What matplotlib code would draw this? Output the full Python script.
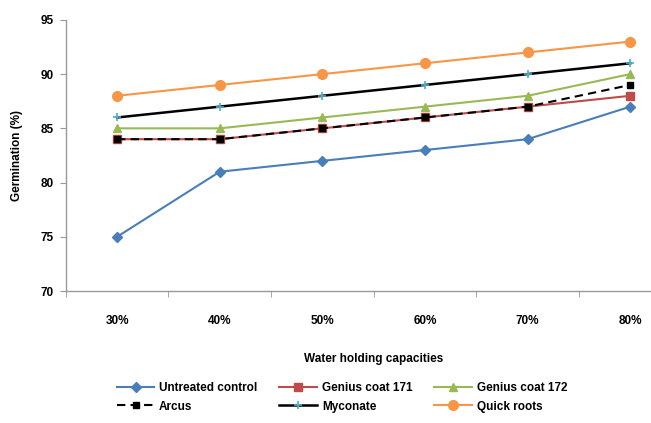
import matplotlib
matplotlib.use("Agg")
import matplotlib.pyplot as plt
import numpy as np

plt.rcParams['font.family'] = ['Liberation Sans', 'DejaVu Sans']
plt.rcParams['font.weight'] = 'bold'

categories = ["30%", "40%", "50%", "60%", "70%", "80%"]
untreated = [75, 81, 82, 83, 84, 87]
genius171 = [84, 84, 85, 86, 87, 88]
genius172 = [85, 85, 86, 87, 88, 90]
arcus = [84, 84, 85, 86, 87, 89]
myconate = [86, 87, 88, 89, 90, 91]
quick_roots = [88, 89, 90, 91, 92, 93]

fig = plt.figure(figsize=(6.51, 4.23), dpi=100)
ax = fig.add_axes([0.101, 0.312, 0.946, 0.641])

x = np.arange(len(categories))
ax.plot(x, untreated, color='#4a7ebb', marker='D', ms=5, lw=1.5, label='Untreated control')
ax.plot(x, genius171, color='#be4b48', marker='s', ms=6, lw=1.5, label='Genius coat 171')
ax.plot(x, genius172, color='#98b954', marker='^', ms=6, lw=1.5, label='Genius coat 172')
ax.plot(x, arcus, color='black', marker='s', ms=5, lw=1.5, ls=(0, (4, 2.5)), label='Arcus')
ax.plot(x, myconate, color='black', marker='+', ms=6, mec='#4bacc6', mew=1.2, lw=1.8, label='Myconate')
ax.plot(x, quick_roots, color='#f79646', marker='o', ms=7, lw=1.5, label='Quick roots')

ax.set_xlim(-0.5, len(categories) - 0.5)
ax.set_ylim(70, 95)
ax.set_yticks(np.arange(70, 96, 5))
ax.set_xticks(x)
ax.set_xticklabels(categories, fontsize=8.5, fontweight='bold')
ax.set_xticks(np.arange(-0.5, len(categories), 1), minor=True)
ax.tick_params(axis='x', which='major', length=0, pad=17)
ax.tick_params(axis='x', which='minor', length=4, color='#999999')
ax.tick_params(axis='y', length=4, color='#999999', labelsize=8.5, pad=5)
for lbl in ax.get_yticklabels():
    lbl.set_fontweight('bold')

for side in ['top', 'right']:
    ax.spines[side].set_visible(False)
for side in ['left', 'bottom']:
    ax.spines[side].set_color('#999999')
    ax.spines[side].set_linewidth(1)

ax.set_ylabel('Germination (%)', fontsize=8.5, fontweight='bold', labelpad=12)
ax.set_xlabel('Water holding capacities', fontsize=8.5, fontweight='bold', labelpad=19)

handles, labels = ax.get_legend_handles_labels()
order = [0, 3, 1, 4, 2, 5]
fig.legend([handles[i] for i in order], [labels[i] for i in order],
           ncol=3, loc='upper left', bbox_to_anchor=(0.172, 0.108),
           frameon=False, fontsize=8.5, columnspacing=1.85, handlelength=3.2,
           handletextpad=0.4, labelspacing=0.55, borderaxespad=0)

fig.savefig('out.png', dpi=100)
